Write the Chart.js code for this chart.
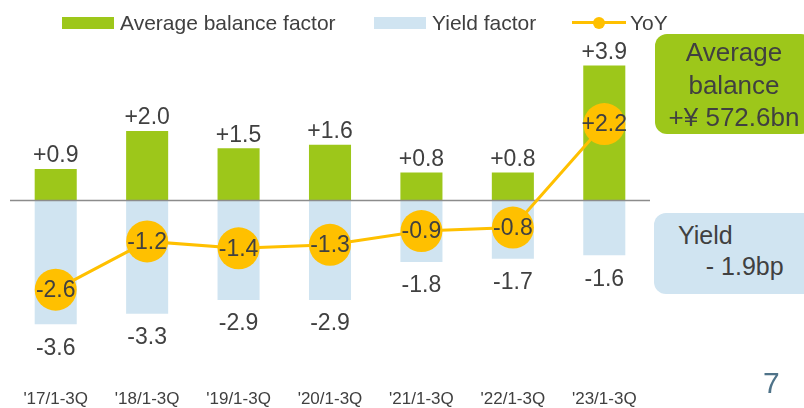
<!DOCTYPE html>
<html lang="en">
<head>
    <meta charset="UTF-8">
    <title>Average balance and yield factors</title>
    <script src="https://cdn.jsdelivr.net/npm/chart.js"></script>
    <style>
        body { margin: 0; background: #fff; font-family: "Liberation Sans", Arial, sans-serif; color: #404040; }
        #wrap { position: relative; width: 804px; height: 408px; overflow: hidden; }
        #myChart { position: absolute; left: 0; top: 0; }

        .legend-item { position: absolute; top: 10px; height: 25px; display: flex; align-items: center; font-size: 21px; white-space: nowrap; }
        .swatch { width: 52px; height: 12px; margin-right: 6px; }
        .yoy-mark { position: relative; width: 54px; height: 12px; margin-right: 4px; }
        .yoy-mark::before { content: ""; position: absolute; left: 0; right: 0; top: 4.5px; height: 3px; background: #ffc000; }
        .yoy-mark::after { content: ""; position: absolute; left: 21px; top: 0; width: 12px; height: 12px; border-radius: 50%; background: #ffc000; }

        .note { position: absolute; border-radius: 12px; font-size: 26px; }
        #noteBalance { left: 655px; top: 34px; width: 158px; height: 100px; background: #9dc71a; text-align: center; line-height: 32.5px; padding-top: 2px; box-sizing: border-box; }
        #noteYield { left: 654px; top: 213px; width: 170px; height: 81px; background: #d0e4f1; font-size: 25px; line-height: 31px; padding: 7px 0 0 24px; box-sizing: border-box; }
        #pageNo { position: absolute; left: 763px; top: 366px; font-size: 30px; color: #4f7389; }
    </style>
</head>
<body>
    <div id="wrap">
        <canvas id="myChart" width="804" height="408"></canvas>

        <div class="legend-item" style="left: 62px;"><span class="swatch" style="background: #9dc71a;"></span>Average balance factor</div>
        <div class="legend-item" style="left: 374px;"><span class="swatch" style="background: #d0e4f1;"></span>Yield factor</div>
        <div class="legend-item" style="left: 572px;"><span class="yoy-mark"></span>YoY</div>

        <div id="noteBalance" class="note">Average<br>balance<br>+¥ 572.6bn</div>
        <div id="noteYield" class="note">Yield<br>&nbsp;&nbsp;&nbsp;&nbsp;- 1.9bp</div>
        <div id="pageNo">7</div>
    </div>

    <script>
        const periods = ["'17/1-3Q", "'18/1-3Q", "'19/1-3Q", "'20/1-3Q", "'21/1-3Q", "'22/1-3Q", "'23/1-3Q"];
        const balanceFactor = [0.9, 2.0, 1.5, 1.6, 0.8, 0.8, 3.9];
        const yieldFactor = [-3.6, -3.3, -2.9, -2.9, -1.8, -1.7, -1.6];
        const yoy = [-2.6, -1.2, -1.4, -1.3, -0.9, -0.8, 2.2];

        const GREEN = '#9dc71a';
        const BLUE = '#d0e4f1';
        const GOLD = '#ffc000';
        const TEXT = '#404040';

        function fmt(v) {
            return (v > 0 ? '+' : '') + v.toFixed(1);
        }

        // gray line at zero, drawn over the bars but under the YoY line
        const zeroLine = {
            id: 'zeroLine',
            beforeDatasetDraw(chart, args) {
                if (args.meta.type !== 'line') return;
                const { ctx, chartArea, scales } = chart;
                const y = Math.round(scales.y.getPixelForValue(0)) + 0.5;
                ctx.save();
                ctx.strokeStyle = '#8c8c8c';
                ctx.lineWidth = 1.5;
                ctx.beginPath();
                ctx.moveTo(chartArea.left, y);
                ctx.lineTo(chartArea.right, y);
                ctx.stroke();
                ctx.restore();
            }
        };

        // value labels: above green bars, below blue bars, inside YoY circles
        const valueLabels = {
            id: 'valueLabels',
            afterDatasetsDraw(chart) {
                const ctx = chart.ctx;
                ctx.save();
                ctx.font = '23px "Liberation Sans", Arial, sans-serif';
                ctx.fillStyle = TEXT;
                ctx.textAlign = 'center';
                ctx.textBaseline = 'middle';
                chart.data.datasets.forEach((ds, i) => {
                    const meta = chart.getDatasetMeta(i);
                    meta.data.forEach((el, j) => {
                        const v = ds.data[j];
                        let y = el.y;
                        if (meta.type === 'bar') {
                            y = v >= 0 ? el.y - 14 : el.y + 23;
                        }
                        ctx.fillText(fmt(v), el.x, y + 1);
                    });
                });
                ctx.restore();
            }
        };

        Chart.defaults.font.family = '"Liberation Sans", Arial, sans-serif';
        Chart.defaults.color = TEXT;

        const ctx = document.getElementById('myChart').getContext('2d');
        new Chart(ctx, {
            data: {
                labels: periods,
                datasets: [
                    {
                        type: 'line',
                        label: 'YoY',
                        data: yoy,
                        borderColor: GOLD,
                        borderWidth: 3,
                        pointRadius: 21,
                        pointHoverRadius: 21,
                        pointBackgroundColor: GOLD,
                        pointBorderWidth: 0,
                        tension: 0,
                        order: 0
                    },
                    {
                        type: 'bar',
                        label: 'Average balance factor',
                        data: balanceFactor,
                        backgroundColor: GREEN,
                        order: 1
                    },
                    {
                        type: 'bar',
                        label: 'Yield factor',
                        data: yieldFactor,
                        backgroundColor: BLUE,
                        order: 2
                    }
                ]
            },
            options: {
                responsive: false,
                animation: false,
                events: [],
                categoryPercentage: 0.46,
                barPercentage: 1,
                layout: {
                    autoPadding: false,
                    padding: { left: 10, right: 154, top: 44.75, bottom: 0 }
                },
                plugins: {
                    legend: { display: false },
                    tooltip: { enabled: false }
                },
                scales: {
                    x: {
                        stacked: true,
                        grid: { display: false, drawTicks: false },
                        border: { display: false },
                        ticks: {
                            // tall line height pushes the labels down to the slide's footer
                            font: { size: 17, lineHeight: '87.5px' },
                            color: TEXT,
                            padding: 0,
                            maxRotation: 0,
                            autoSkip: false
                        },
                        afterFit(scale) {
                            scale.height = 52.75;
                        }
                    },
                    y: {
                        display: false,
                        min: -4.5,
                        max: 4.5
                    }
                }
            },
            plugins: [zeroLine, valueLabels]
        });
    </script>
</body>
</html>
